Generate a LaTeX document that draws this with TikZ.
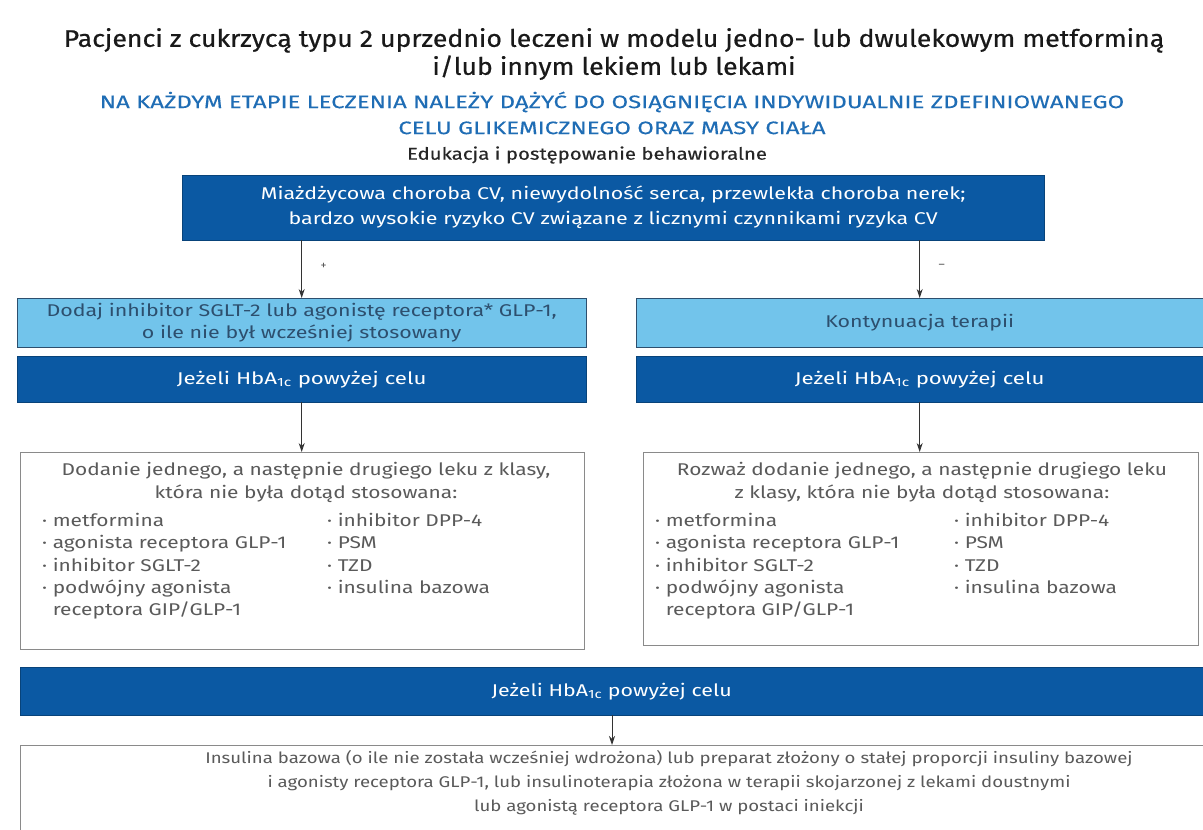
\documentclass[tikz,border=0pt]{standalone}
\usepackage{fontspec}
\setmainfont{Fira Sans}
\newfontfamily\ftitle{Fira Sans}[FakeStretch=1.11,FakeBold=0.6]
\newfontfamily\fgoal{Fira Sans}[FakeStretch=1.33,FakeBold=0.3]
\newfontfamily\fedu{Fira Sans}[FakeStretch=1.2,FakeBold=0.4]
\newfontfamily\fmid{Fira Sans}[FakeStretch=1.2]
\newfontfamily\flight{Fira Sans}[FakeStretch=1.26]
\newfontfamily\fdark{Fira Sans}[FakeStretch=1.31]
\newfontfamily\flist{Fira Sans}[FakeStretch=1.23]
\usetikzlibrary{arrows.meta}
\definecolor{dblue}{HTML}{0B59A3}
\definecolor{lblue}{HTML}{72C4EB}
\definecolor{tblue}{HTML}{1F6DB5}
\definecolor{gtext}{HTML}{5A5A5A}
\definecolor{ltext}{HTML}{2D4F6E}
\definecolor{bord}{HTML}{8A8A8A}
\begin{document}
\begin{tikzpicture}[x=1pt,y=-1pt,
  darkbox/.style={fill=dblue, draw=dblue!75!black, text=white, inner sep=0pt, anchor=north west, align=center, font=\fdark\fontsize{17}{25}\selectfont},
  lightbox/.style={fill=lblue, draw=ltext, text=ltext, inner sep=0pt, anchor=north west, align=center, font=\flight\fontsize{17}{22}\selectfont},
  whitebox/.style={draw=bord, fill=white, inner sep=0pt, anchor=north west},
  btext/.style={text=gtext, align=center, inner sep=0pt, font=\flist\fontsize{17}{23}\selectfont},
  ltxt/.style={text=gtext, align=left, inner sep=0pt, anchor=north west, font=\flist\fontsize{17}{22.3}\selectfont},
  arr/.style={draw=black!80, line width=0.9pt, -{Stealth[length=9pt,width=6pt]}},
  sign/.style={text=gtext, inner sep=0pt, font=\fontsize{12}{12}\selectfont}]
\useasboundingbox (0,0) rectangle (1203,830);
\fill[white] (0,0) rectangle (1203,830);
% titles
\node[align=center, inner sep=0pt, text=black!90, font=\ftitle\fontsize{24}{28}\selectfont] (title) at (614,54)
  {Pacjenci z cukrzycą typu 2 uprzednio leczeni w modelu jedno- lub dwulekowym metforminą\\ i/lub innym lekiem lub lekami};
\node[align=center, inner sep=0pt, text=tblue, font=\fgoal\fontsize{18}{26}\selectfont] (goal) at (612,113)
  {NA KAŻDYM ETAPIE LECZENIA NALEŻY DĄŻYĆ DO OSIĄGNIĘCIA INDYWIDUALNIE ZDEFINIOWANEGO\\ CELU GLIKEMICZNEGO ORAZ MASY CIAŁA};
\node[inner sep=0pt, text=black!85, font=\fedu\fontsize{17}{18}\selectfont] (edu) at (587,155) {Edukacja i postępowanie behawioralne};
% top box
\node[darkbox, font=\flight\fontsize{17}{25}\selectfont, minimum width=862pt, minimum height=65pt] (cv) at (182,175)
  {Miażdżycowa choroba CV, niewydolność serca, przewlekła choroba nerek;\\ bardzo wysokie ryzyko CV związane z licznymi czynnikami ryzyka CV};
% light boxes
\node[lightbox, minimum width=569pt, minimum height=49pt] (add) at (17,298)
  {Dodaj inhibitor SGLT-2 lub agonistę receptora* GLP-1,\\ o ile nie był wcześniej stosowany};
\node[lightbox, minimum width=567pt, minimum height=49pt] (cont) at (636,298)
  {Kontynuacja terapii};
% dark boxes
\node[darkbox, minimum width=569pt, minimum height=46pt] (hb1) at (17,356)
  {Jeżeli HbA\textsubscript{1c} powyżej celu};
\node[darkbox, minimum width=567pt, minimum height=46pt] (hb2) at (636,356)
  {Jeżeli HbA\textsubscript{1c} powyżej celu};
% white boxes
\node[whitebox, minimum width=564pt, minimum height=197pt] (w1) at (20,452) {};
\node[whitebox, minimum width=555pt, minimum height=193pt] (w2) at (643,452) {};
\node[btext] (w1h) at (306,482) {Dodanie jednego, a następnie drugiego leku z klasy,\\ która nie była dotąd stosowana:};
\node[btext] (w2h) at (922,482) {Rozważ dodanie jednego, a następnie drugiego leku\\ z klasy, która nie była dotąd stosowana:};
\node[ltxt] (w1a) at (42,513) {· metformina\\ · agonista receptora GLP-1\\ · inhibitor SGLT-2\\ · podwójny agonista\\ \phantom{· }receptora GIP/GLP-1};
\node[ltxt] (w1b) at (327,513) {· inhibitor DPP-4\\ · PSM\\ · TZD\\ · insulina bazowa};
\node[ltxt] (w2a) at (655,513) {· metformina\\ · agonista receptora GLP-1\\ · inhibitor SGLT-2\\ · podwójny agonista\\ \phantom{· }receptora GIP/GLP-1};
\node[ltxt] (w2b) at (954,513) {· inhibitor DPP-4\\ · PSM\\ · TZD\\ · insulina bazowa};
% bottom band
\node[darkbox, font=\flight\fontsize{17}{25}\selectfont, minimum width=1183pt, minimum height=48pt] (hb3) at (20,667)
  {Jeżeli HbA\textsubscript{1c} powyżej celu};
% final box
\coordinate (fintop) at (612,745);
\draw[bord, line width=0.8pt] (20,832) |- (1205,745);
\node[btext, font=\fmid\fontsize{15.5}{24}\selectfont] (fin) at (669,783)
  {Insulina bazowa (o ile nie została wcześniej wdrożona) lub preparat złożony o stałej proporcji insuliny bazowej\\
   i agonisty receptora GLP-1, lub insulinoterapia złożona w terapii skojarzonej z lekami doustnymi\\
   lub agonistą receptora GLP-1 w postaci iniekcji};
% arrows
\draw[arr] (cv.south -| add.north) -- node[sign, pos=0.45, xshift=22pt] (plus) {+} (add.north);
\draw[arr] (cv.south -| cont.north) -- node[sign, pos=0.45, xshift=22pt] (minus) {–} (cont.north);
\draw[arr] (hb1.south) -- (w1.north -| hb1.south);
\draw[arr] (hb2.south) -- (w2.north -| hb2.south);
\draw[arr] (hb3.south -| fintop) -- (fintop);
\end{tikzpicture}
\end{document}
